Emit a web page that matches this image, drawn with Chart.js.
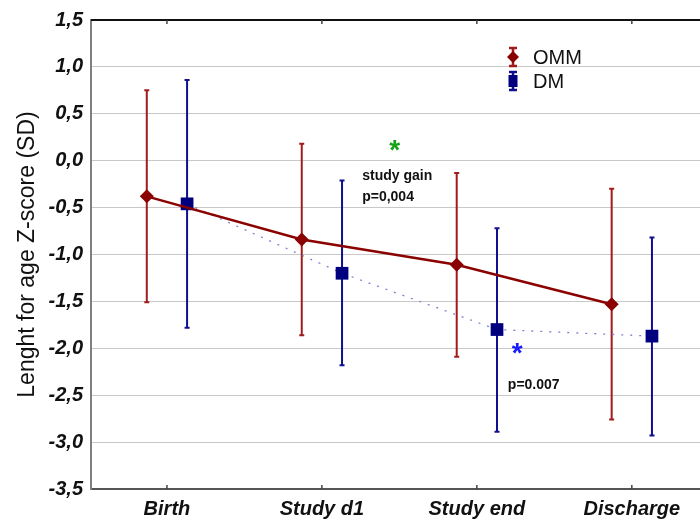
<!DOCTYPE html>
<html>
<head>
<meta charset="utf-8">
<title>Lenght for age Z-score</title>
<script src="https://cdn.jsdelivr.net/npm/chart.js@4/dist/chart.umd.min.js"></script>
<style>
    html, body { margin: 0; padding: 0; background: #fff; overflow: hidden; }
    canvas { display: block; }
</style>
</head>
<body>
<canvas id="zChart" width="700" height="523"></canvas>
<script>
// ===== DATA =====
const categories = ['Birth', 'Study d1', 'Study end', 'Discharge'];
const yTicks = [-3.5, -3.0, -2.5, -2.0, -1.5, -1.0, -0.5, 0.0, 0.5, 1.0, 1.5];

// OMM group: mean and error bar ends
const ommMean  = [-0.38, -0.84, -1.11, -1.53];
const ommUpper = [ 0.75,  0.18, -0.13, -0.30];
const ommLower = [-1.51, -1.86, -2.09, -2.76];

// DM group: mean and error bar ends
const dmMean  = [-0.46, -1.20, -1.80, -1.87];
const dmUpper = [ 0.86, -0.21, -0.72, -0.82];
const dmLower = [-1.78, -2.18, -2.89, -2.93];

// notes drawn on the plot: [text, x (category units), y (SD), colour, font, align]
const notes = [
    ['*', 1.47, 0.02, '#17a317', 'bold 28px Arial', 'center'],
    ['study gain', 1.26, -0.21, '#111', 'bold 14px Arial', 'left'],
    ['p=0,004', 1.26, -0.43, '#111', 'bold 14px Arial', 'left'],
    ['*', 2.26, -2.15, '#1a1aff', 'bold 28px Arial', 'center'],
    ['p=0.007', 2.2, -2.43, '#111', 'bold 14px Arial', 'left']
];

// groups sit side by side around each category
const groupOffset = 0.13;

const ommColor = '#8b0000';
const ommBarColor = '#a01c1c';
const dmColor = '#00007f';
const dmBarColor = '#10108f';

function toPoints(values, shift) {
    return values.map((v, i) => ({ x: i + shift, y: v }));
}

// ===== ERROR BARS, NOTES, LEGEND =====
const extrasPlugin = {
    id: 'extras',
    beforeDatasetsDraw(chart) {
        const ctx = chart.ctx;
        const xs = chart.scales.x;
        const ys = chart.scales.y;
        const groups = [
            { up: ommUpper, lo: ommLower, shift: -groupOffset, color: ommBarColor },
            { up: dmUpper, lo: dmLower, shift: groupOffset, color: dmBarColor }
        ];
        ctx.save();
        groups.forEach(g => {
            ctx.strokeStyle = g.color;
            ctx.lineWidth = 2;
            g.up.forEach((u, i) => {
                const px = xs.getPixelForValue(i + g.shift);
                const pu = ys.getPixelForValue(u);
                const pl = ys.getPixelForValue(g.lo[i]);
                ctx.beginPath();
                ctx.moveTo(px, pu);
                ctx.lineTo(px, pl);
                ctx.moveTo(px - 2.5, pu);
                ctx.lineTo(px + 2.5, pu);
                ctx.moveTo(px - 2.5, pl);
                ctx.lineTo(px + 2.5, pl);
                ctx.stroke();
            });
        });
        ctx.restore();
    },
    afterDraw(chart) {
        const ctx = chart.ctx;
        const xs = chart.scales.x;
        const ys = chart.scales.y;
        const area = chart.chartArea;
        ctx.save();

        // top frame line
        ctx.strokeStyle = '#111';
        ctx.lineWidth = 2;
        ctx.beginPath();
        ctx.moveTo(area.left, area.top);
        ctx.lineTo(area.right, area.top);
        ctx.stroke();

        // small inward tick marks on top and bottom
        ctx.strokeStyle = '#444';
        ctx.lineWidth = 1.5;
        categories.forEach((c, i) => {
            const px = xs.getPixelForValue(i);
            ctx.beginPath();
            ctx.moveTo(px, area.bottom);
            ctx.lineTo(px, area.bottom - 4);
            ctx.moveTo(px, area.top);
            ctx.lineTo(px, area.top + 4);
            ctx.stroke();
        });

        // notes
        ctx.textBaseline = 'alphabetic';
        notes.forEach(n => {
            ctx.font = n[4];
            ctx.fillStyle = n[3];
            ctx.textAlign = n[5];
            ctx.fillText(n[0], xs.getPixelForValue(n[1]), ys.getPixelForValue(n[2]));
        });

        // legend
        const items = [
            { label: chart.data.datasets[0].label, color: ommColor, bar: ommBarColor, style: 'diamond', y: 57 },
            { label: chart.data.datasets[1].label, color: dmColor, bar: dmBarColor, style: 'square', y: 81 }
        ];
        const sx = 513;
        items.forEach(it => {
            ctx.strokeStyle = it.bar;
            ctx.lineWidth = 2.5;
            ctx.beginPath();
            ctx.moveTo(sx, it.y - 9);
            ctx.lineTo(sx, it.y + 9);
            ctx.moveTo(sx - 4, it.y - 9);
            ctx.lineTo(sx + 4, it.y - 9);
            ctx.moveTo(sx - 4, it.y + 9);
            ctx.lineTo(sx + 4, it.y + 9);
            ctx.stroke();
            ctx.fillStyle = it.color;
            ctx.beginPath();
            if (it.style === 'diamond') {
                ctx.moveTo(sx, it.y - 6);
                ctx.lineTo(sx + 6, it.y);
                ctx.lineTo(sx, it.y + 6);
                ctx.lineTo(sx - 6, it.y);
                ctx.closePath();
            } else {
                ctx.rect(sx - 4.5, it.y - 6, 9, 12);
            }
            ctx.fill();
            ctx.fillStyle = '#111';
            ctx.font = '20px Arial';
            ctx.textAlign = 'left';
            ctx.textBaseline = 'middle';
            ctx.fillText(it.label, 533, it.y + 1);
        });
        ctx.restore();
    }
};

// ===== CHART =====
const ctx = document.getElementById('zChart').getContext('2d');
const zChart = new Chart(ctx, {
    type: 'line',
    data: {
        datasets: [{
            label: 'OMM',
            data: toPoints(ommMean, -groupOffset),
            borderColor: ommColor,
            borderWidth: 2.5,
            pointStyle: 'rectRot',
            pointRadius: 7,
            pointBackgroundColor: ommColor,
            pointBorderColor: ommColor,
            pointBorderWidth: 0,
            tension: 0,
            fill: false
        }, {
            label: 'DM',
            data: toPoints(dmMean, groupOffset),
            borderColor: '#8080cc',
            borderWidth: 1.3,
            borderDash: [2, 7],
            pointStyle: 'rect',
            pointRadius: 9,
            pointBackgroundColor: dmColor,
            pointBorderColor: dmColor,
            pointBorderWidth: 0,
            tension: 0,
            fill: false
        }]
    },
    options: {
        responsive: false,
        animation: false,
        layout: { autoPadding: false, padding: { top: 18, right: 0, left: 0, bottom: 0 } },
        plugins: {
            legend: { display: false },
            tooltip: { enabled: false }
        },
        scales: {
            x: {
                type: 'linear',
                min: -0.49,
                max: 3.44,
                afterBuildTicks: axis => {
                    axis.ticks = categories.map((c, i) => ({ value: i }));
                },
                afterFit: axis => { axis.height = 34; },
                grid: { display: false, drawTicks: false },
                border: { display: true, color: '#555', width: 2 },
                ticks: {
                    padding: 8,
                    maxRotation: 0,
                    autoSkip: false,
                    color: '#111',
                    font: { family: 'Arial', size: 20, weight: 'bold', style: 'italic' },
                    callback: value => categories[value] || ''
                }
            },
            y: {
                min: -3.5,
                max: 1.5,
                afterBuildTicks: axis => {
                    axis.ticks = yTicks.map(v => ({ value: v }));
                },
                afterFit: axis => { axis.width = 91; },
                grid: {
                    color: c => (c.tick && c.tick.value === 1.5) ? '#111' : '#c8c8c8',
                    lineWidth: 1,
                    drawTicks: false
                },
                border: { display: true, color: '#7f7f7f', width: 2 },
                ticks: {
                    padding: 8,
                    color: '#111',
                    font: { family: 'Arial', size: 20, weight: 'bold', style: 'italic' },
                    callback: value => value.toFixed(1).replace('.', ',')
                },
                title: {
                    display: true,
                    text: 'Lenght for age Z-score (SD)',
                    color: '#111',
                    font: { family: 'Arial', size: 23 },
                    padding: { top: 14, bottom: 0 }
                }
            }
        }
    },
    plugins: [extrasPlugin]
});
</script>
</body>
</html>
